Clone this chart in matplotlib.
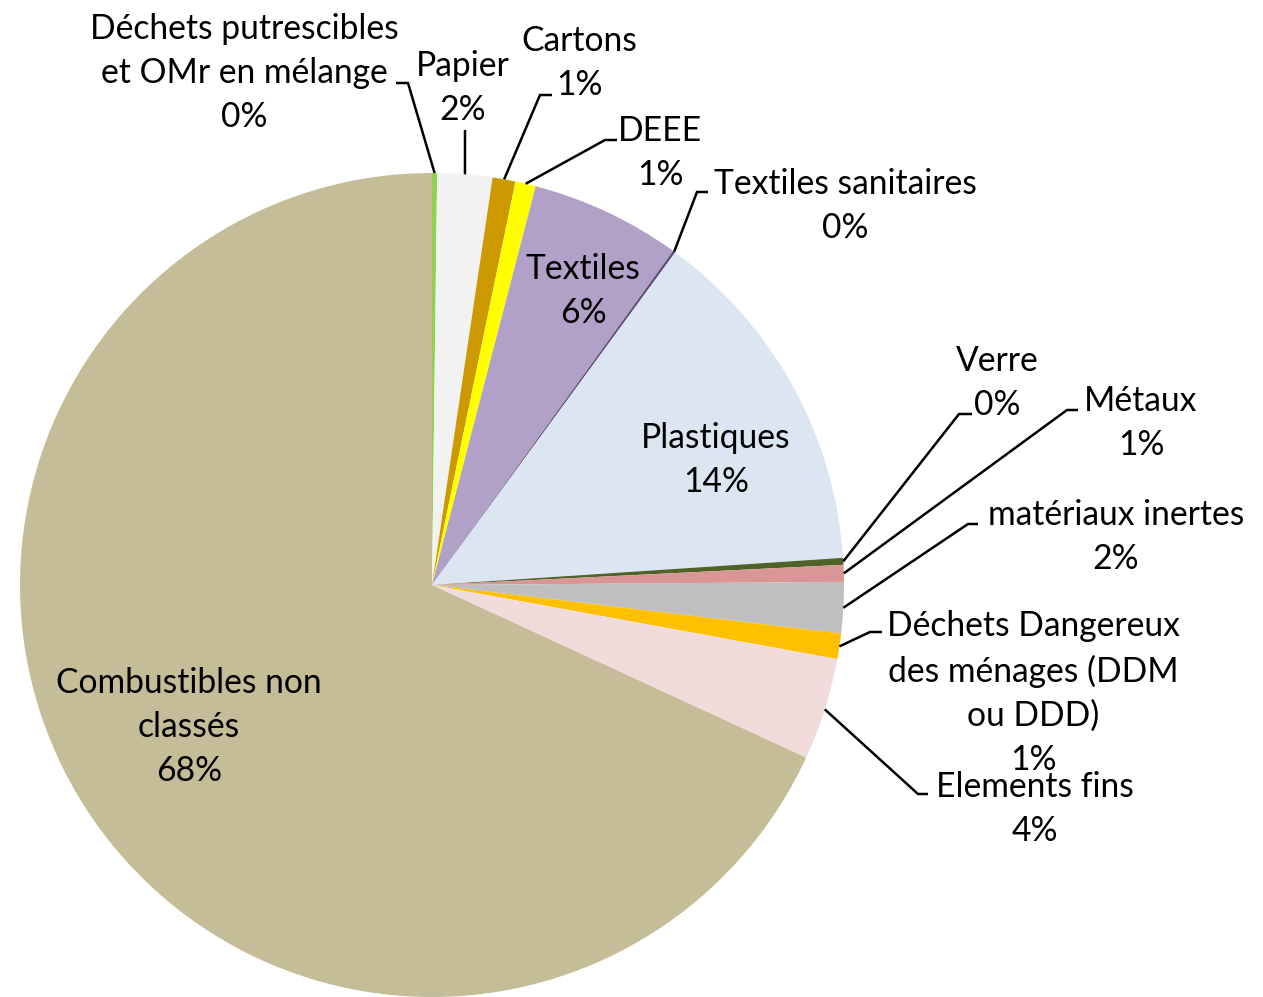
"""
Composition des déchets — camembert avec étiquettes et lignes de rappel.
"""

import numpy as np
import matplotlib.pyplot as plt

# ── Data ───────────────────────────────────────────────────────────────────────

categories = [
    "Déchets putrescibles\net OMr en mélange",
    "Papier",
    "Cartons",
    "DEEE",
    "Textiles",
    "Textiles sanitaires",
    "Plastiques",
    "Verre",
    "Métaux",
    "matériaux inertes",
    "Déchets Dangereux\ndes ménages (DDM\nou DDD)",
    "Elements fins",
    "Combustibles non\nclassés",
]
shares = [0.2, 2.15, 0.9, 0.8, 5.9, 0.1, 13.9, 0.27, 0.66, 2.0, 1.0, 4.0, 68.12]
colors = [
    "#92D050", "#F2F2F2", "#CC9900", "#FFFF00", "#B1A0C7", "#604A7B",
    "#DCE6F2", "#4F6228", "#D99694", "#BFBFBF", "#FFC000", "#F2DCDB",
    "#C4BD97",
]

# ── Layout (pixels, y measured from top) ───────────────────────────────────────

W, H = 1263, 997
CX, CY, R = 432, 585, 412

label_pos = [
    (244, 73), (463, 88), (579, 63), (660, 153), (583, 291), (845, 206),
    (716, 460), (997, 383), (1141, 423), (1116, 537), (1033, 693),
    (1035, 809), (189, 727),
]
# leader: (elbow_x, elbow_y, end_x) ; None = label inside the slice
leaders = [
    (408, 83, 396), (465, 130, 465), (540, 95, 552), (605, 140, 617), None,
    (697, 192, 708), None, (959, 414, 972), (1067, 410, 1078),
    (968, 524, 978), (870, 632, 882), (918, 794, 928), None,
]

plt.rcParams["font.family"] = ["Lato", "DejaVu Sans"]

fig = plt.figure(figsize=(W / 100, H / 100), dpi=100)
ax = fig.add_axes([0, 0, 1, 1])

ax.pie(shares, colors=colors, startangle=90, counterclock=False,
       center=(CX, H - CY), radius=R, wedgeprops=dict(linewidth=0))
ax.set_xlim(0, W)
ax.set_ylim(0, H)
ax.set_aspect("equal")
ax.axis("off")

cum = np.cumsum(shares) - np.array(shares) / 2
for i, name in enumerate(categories):
    pct = f"{round(shares[i])}%"
    lx, ly = label_pos[i]
    ax.text(lx, H - ly, f"{name}\n{pct}", ha="center", va="center",
            multialignment="center", fontsize=24.2, linespacing=1.47,
            color="black")
    if leaders[i] is None:
        continue
    ang = np.deg2rad(90 - 360 * cum[i] / 100)
    wx = CX + R * np.cos(ang)
    wy = (H - CY) + R * np.sin(ang)
    ex, ey, endx = leaders[i]
    ax.plot([wx, ex, endx], [wy, H - ey, H - ey], color="black", lw=1.8,
            solid_capstyle="butt", solid_joinstyle="miter")

fig.savefig("out.png", dpi=100)
